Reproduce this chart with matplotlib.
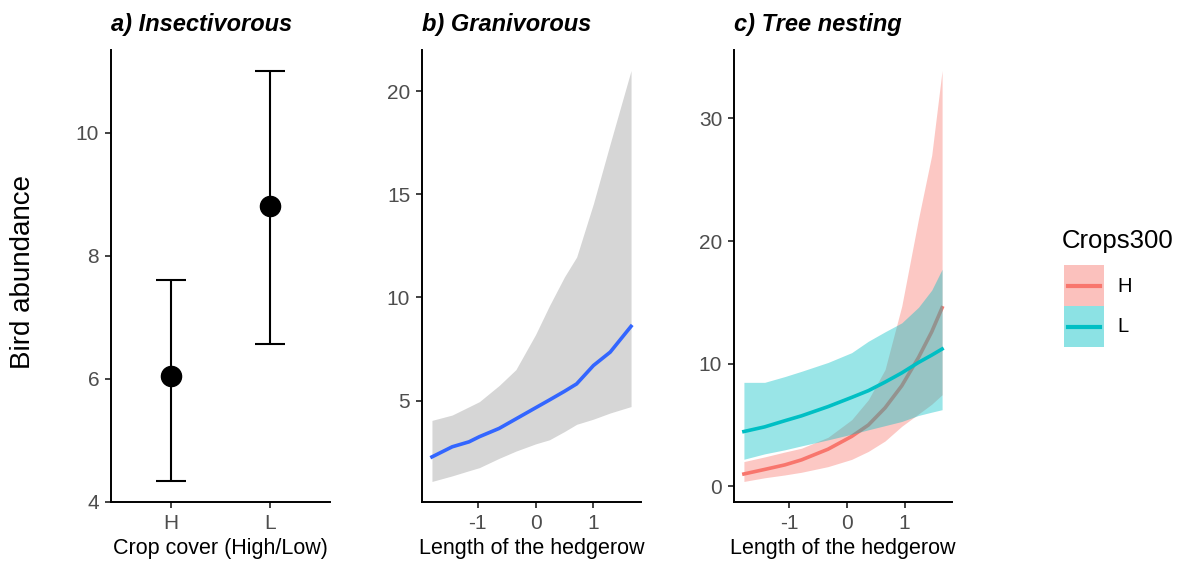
import matplotlib
matplotlib.use("Agg")
import matplotlib.pyplot as plt
import numpy as np
from matplotlib.patches import Rectangle
from matplotlib.lines import Line2D

plt.rcParams['font.family'] = ['Liberation Sans', 'DejaVu Sans']
plt.rcParams['axes.unicode_minus'] = False

# a) Insectivorous: mean and interval by crop cover
crop_levels = ["H", "L"]
insect_mean = [6.05, 8.8]
insect_low = [4.33, 6.57]
insect_high = [7.6, 11.01]

# b) Granivorous: fitted curve vs hedgerow length
gran_x = [-1.79, -1.44, -1.15, -0.97, -0.63, -0.34, 0.0, 0.24, 0.5, 0.71, 1.0, 1.29, 1.65]
gran_fit = [2.27, 2.76, 3.0, 3.25, 3.65, 4.11, 4.65, 5.03, 5.45, 5.81, 6.7, 7.35, 8.6]
gran_up = [4.04, 4.3, 4.7, 4.95, 5.73, 6.5, 8.2, 9.6, 11.0, 11.96, 14.55, 17.46, 21.0]
gran_lo = [1.08, 1.35, 1.6, 1.75, 2.2, 2.55, 2.9, 3.1, 3.5, 3.85, 4.1, 4.4, 4.71]

# c) Tree nesting, by Crops300 group
tree_x = [-1.79, -1.43, -1.08, -0.79, -0.33, 0.08, 0.37, 0.66, 0.95, 1.24, 1.47, 1.65]
tree_h_fit = [1.01, 1.38, 1.75, 2.16, 3.03, 4.07, 5.0, 6.4, 8.2, 10.5, 12.6, 14.56]
tree_h_up = [2.02, 2.4, 2.8, 3.11, 4.0, 5.43, 7.06, 9.52, 14.7, 21.8, 27.0, 33.9]
tree_h_lo = [0.4, 0.7, 0.93, 1.15, 1.61, 2.2, 2.85, 3.7, 4.9, 5.9, 6.7, 7.47]
tree_l_fit = [4.47, 4.85, 5.35, 5.75, 6.5, 7.25, 7.8, 8.5, 9.25, 10.1, 10.7, 11.2]
tree_l_up = [8.48, 8.48, 8.95, 9.38, 10.1, 10.9, 11.83, 12.6, 13.33, 14.6, 16.0, 17.7]
tree_l_lo = [2.21, 2.65, 2.98, 3.3, 3.79, 4.25, 4.61, 4.95, 5.29, 5.78, 6.05, 6.25]

groups = ["H", "L"]
col_h = "#F8766D"
col_l = "#00BFC4"
tick_col = "#4D4D4D"

W, H = 1181, 561
fig = plt.figure(figsize=(W / 100, H / 100), dpi=100)


def make_ax(left_px, right_px):
    ax = fig.add_axes([left_px / W, 59 / H, (right_px - left_px) / W, 452 / H])
    for s in ["top", "right"]:
        ax.spines[s].set_visible(False)
    for s in ["left", "bottom"]:
        ax.spines[s].set_linewidth(1.4)
    ax.tick_params(direction="out", length=4.5, width=1.3, color="#333333",
                   labelsize=15, labelcolor=tick_col, pad=4)
    return ax


def expand(lo, hi, f=0.05):
    r = hi - lo
    return lo - f * r, hi + f * r


# panel a
ax1 = make_ax(111, 330)
xa = np.arange(1, len(crop_levels) + 1)
ax1.vlines(xa, insect_low, insect_high, color="black", lw=1.5)
ax1.hlines(insect_low, xa - 0.15, xa + 0.15, color="black", lw=1.5)
ax1.hlines(insect_high, xa - 0.15, xa + 0.15, color="black", lw=1.5)
ax1.plot(xa, insect_mean, "o", color="black", markersize=14.5, zorder=3)
ax1.set_xlim(0.4, 2.6)
ax1.set_ylim(*expand(min(insect_low), max(insect_high)))
ax1.set_xticks(xa)
ax1.set_xticklabels(crop_levels)
ax1.set_yticks([4, 6, 8, 10])
ax1.set_xlabel("Crop cover (High/Low)", fontsize=15.5, labelpad=4)
ax1.set_title("a) Insectivorous", loc="left", fontsize=17, fontweight="bold",
              fontstyle="italic", pad=14)

# panel b
ax2 = make_ax(422, 641)
ax2.fill_between(gran_x, gran_lo, gran_up, color="#999999", alpha=0.4, lw=0)
ax2.plot(gran_x, gran_fit, color="#3366FF", lw=2.6, solid_joinstyle="round")
ax2.set_xlim(*expand(min(gran_x), max(gran_x)))
ax2.set_ylim(*expand(min(gran_lo), max(gran_up)))
ax2.set_xticks([-1, 0, 1])
ax2.set_yticks([5, 10, 15, 20])
ax2.set_xlabel("Length of the hedgerow", fontsize=15.5, labelpad=4)
ax2.set_title("b) Granivorous", loc="left", fontsize=17, fontweight="bold",
              fontstyle="italic", pad=14)

# panel c: ribbon then line per group, L drawn over H
ax3 = make_ax(734, 952)
ax3.fill_between(tree_x, tree_h_lo, tree_h_up, color=col_h, alpha=0.4, lw=0, zorder=1)
ax3.plot(tree_x, tree_h_fit, color=col_h, lw=2.6, zorder=1.1, solid_joinstyle="round")
ax3.fill_between(tree_x, tree_l_lo, tree_l_up, color=col_l, alpha=0.4, lw=0, zorder=1.2)
ax3.plot(tree_x, tree_l_fit, color=col_l, lw=2.6, zorder=1.3, solid_joinstyle="round")
ax3.set_xlim(*expand(min(tree_x), max(tree_x)))
ax3.set_ylim(*expand(min(tree_h_lo), max(tree_h_up)))
ax3.set_xticks([-1, 0, 1])
ax3.set_yticks([0, 10, 20, 30])
ax3.set_xlabel("Length of the hedgerow", fontsize=15.5, labelpad=4)
ax3.set_title("c) Tree nesting", loc="left", fontsize=17, fontweight="bold",
              fontstyle="italic", pad=14)

fig.text(23 / W, 1 - 272 / H, "Bird abundance", rotation=90, fontsize=20,
         ha="center", va="center")

# legend drawn by hand, ggplot style keys
fig.text(1062 / W, 1 - 241 / H, "Crops300", fontsize=18.5, ha="left", va="center")
for i, (g, c) in enumerate(zip(groups, [col_h, col_l])):
    top = 265 + i * 41
    fig.add_artist(Rectangle((1064 / W, 1 - (top + 41) / H), 40 / W, 41 / H,
                             transform=fig.transFigure, facecolor=c, alpha=0.45,
                             edgecolor="none"))
    fig.add_artist(Line2D([1068 / W, 1100 / W], [1 - (top + 20.5) / H] * 2,
                          transform=fig.transFigure, color=c, lw=3))
    fig.text(1117 / W, 1 - (top + 21) / H, g, fontsize=14.5, ha="left", va="center")

fig.savefig("out.png", dpi=100)
